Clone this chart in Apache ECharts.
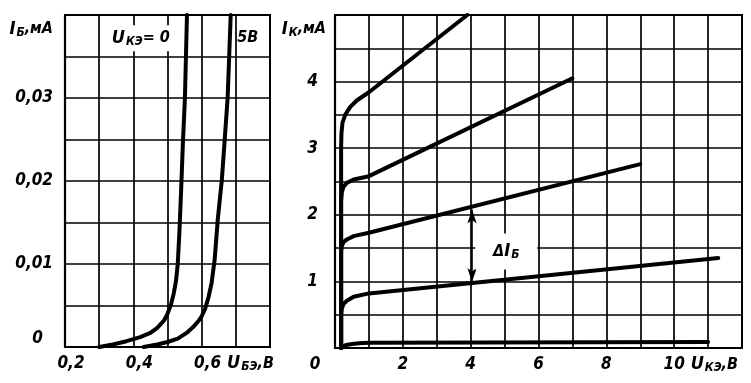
<!DOCTYPE html>
<html>
<head>
<meta charset="utf-8">
<script src="https://cdn.jsdelivr.net/npm/echarts@6/dist/echarts.min.js"></script>
<style>
html,body{margin:0;padding:0;background:#fff;}
#c{width:751px;height:383px;}
</style>
</head>
<body>
<div id="c"></div>
<script>
// ---- Input characteristics: I_Б (mA) vs U_БЭ (V) ----
const inUbe0 = [0.30, 0.34, 0.38, 0.42, 0.45, 0.47, 0.49, 0.50, 0.51, 0.518, 0.525, 0.530, 0.535, 0.540, 0.545, 0.551, 0.557];
const inIb0  = [0, 0.0003, 0.0007, 0.0012, 0.0017, 0.0023, 0.0032, 0.0040, 0.0051, 0.0064, 0.0080, 0.0100, 0.0140, 0.0190, 0.0245, 0.030, 0.040];
const inUbe5 = [0.43, 0.47, 0.50, 0.53, 0.556, 0.575, 0.59, 0.60, 0.61, 0.62, 0.629, 0.638, 0.647, 0.659, 0.668, 0.676, 0.685];
const inIb5  = [0, 0.0003, 0.0006, 0.0010, 0.0017, 0.0024, 0.0031, 0.0037, 0.0046, 0.0060, 0.0077, 0.0105, 0.0153, 0.0201, 0.0253, 0.030, 0.040];

// ---- Output characteristics: I_К (mA) vs U_КЭ (V) ----
const outU_A = [0.18, 0.18, 0.19, 0.22, 0.30, 0.45, 0.65, 1.00, 3.90];
const outI_A = [0, 3.00, 3.22, 3.38, 3.50, 3.62, 3.72, 3.84, 5.00];
const outU_B = [0.18, 0.18, 0.20, 0.25, 0.35, 0.55, 1.00, 7.00];
const outI_B = [0, 2.20, 2.33, 2.42, 2.48, 2.53, 2.58, 4.05];
const outU_C = [0.18, 0.18, 0.20, 0.25, 0.35, 0.55, 1.00, 9.00];
const outI_C = [0, 1.45, 1.53, 1.59, 1.63, 1.68, 1.73, 2.76];
const outU_D = [0.18, 0.18, 0.20, 0.25, 0.35, 0.55, 1.00, 11.30];
const outI_D = [0, 0.50, 0.59, 0.66, 0.71, 0.77, 0.82, 1.35];
const outU_E = [0.18, 0.22, 0.30, 0.45, 0.70, 1.00, 11.00];
const outI_E = [0, 0.02, 0.04, 0.055, 0.07, 0.08, 0.09];

// ΔI_Б arrow (U, I from, I to)
const deltaU = 4.04;
const deltaI = [2.08, 0.99];

// tick labels
const leftXTicks = [0.2, 0.4, 0.6];
const leftYTicks = [0, 0.01, 0.02, 0.03];
const rightXTicks = [0, 2, 4, 6, 8, 10];
const rightYTicks = [1, 2, 3, 4];

const F = "'DejaVu Sans Condensed','Liberation Sans Narrow','DejaVu Sans',sans-serif";
const near = (a, b) => Math.abs(a - b) < 1e-6;
const has = (arr, v) => arr.some(t => near(t, v));
const zip = (xs, ys) => xs.map((x, i) => [x, ys[i]]);

const T = {fontFamily: F, fontStyle: 'italic', fontWeight: 'bold', color: '#000'};
const rich = {
  i: Object.assign({}, T, {fontSize: 18}),
  s: Object.assign({}, T, {fontSize: 12, verticalAlign: 'bottom', padding: [7, 0, 0, 1]}),
  n: Object.assign({}, T, {fontSize: 16}),
  zx: Object.assign({}, T, {fontSize: 17, padding: [0, 40, 0, 0]}),
  zy: Object.assign({}, T, {fontSize: 17, padding: [0, 10, 16, 0]})
};
const labelBase = Object.assign({}, T, {fontSize: 17});
const split = {show: true, lineStyle: {color: '#000', width: 1.7}};
const axisLine = {show: true, lineStyle: {color: '#000', width: 2.2}};

const curveStyle = (w) => ({color: '#000', width: w, join: 'round', cap: 'round'});

const option = {
  animation: false,
  backgroundColor: '#fff',
  grid: [
    {left: 65, right: 481, top: 15, bottom: 36, show: true, borderColor: '#000', borderWidth: 2},
    {left: 335, right: 9, top: 15, bottom: 35, show: true, borderColor: '#000', borderWidth: 2}
  ],
  xAxis: [
    {
      gridIndex: 0, type: 'value', min: 0.2, max: 0.8, interval: 0.1,
      axisLine, axisTick: {show: false}, splitLine: split,
      axisLabel: Object.assign({}, labelBase, {
        margin: 8, padding: [0, 0, 0, 12],
        formatter: v => has(leftXTicks, v) ? v.toFixed(1).replace('.', ',') : ''
      }),
      name: '{i|U}{s|БЭ}{n|,В}', nameLocation: 'end', nameGap: -50,
      nameTextStyle: {rich, align: 'left', verticalAlign: 'top', padding: [7, 0, 0, 0]}
    },
    {
      gridIndex: 1, type: 'value', min: 0, max: 12, interval: 1,
      axisLine, axisTick: {show: false}, splitLine: split,
      axisLabel: Object.assign({}, labelBase, {
        margin: 8, rich,
        formatter: v => near(v, 0) ? '{zx|0}' : (has(rightXTicks, v) ? String(Math.round(v)) : '')
      }),
      name: '{i|U}{s|КЭ}{n|,В}', nameLocation: 'end', nameGap: -52,
      nameTextStyle: {rich, align: 'left', verticalAlign: 'top', padding: [7, 0, 0, 0]}
    }
  ],
  yAxis: [
    {
      gridIndex: 0, type: 'value', min: 0, max: 0.04, interval: 0.005,
      axisLine, axisTick: {show: false}, splitLine: split,
      axisLabel: Object.assign({}, labelBase, {
        margin: 12, rich,
        formatter: v => near(v, 0) ? '{zy|0}' : (has(leftYTicks, v) ? v.toFixed(2).replace('.', ',') : '')
      }),
      name: '{i|I}{s|Б}{n|,мА}', nameLocation: 'end', nameGap: -14,
      nameTextStyle: {rich, align: 'right', verticalAlign: 'middle', padding: [0, 12, 0, 0]}
    },
    {
      gridIndex: 1, type: 'value', min: 0, max: 5, interval: 0.5,
      axisLine, axisTick: {show: false}, splitLine: split,
      axisLabel: Object.assign({}, labelBase, {
        margin: 17,
        formatter: v => has(rightYTicks, v) ? String(Math.round(v)) : ''
      }),
      name: '{i|I}{s|К}{n|,мА}', nameLocation: 'end', nameGap: -14,
      nameTextStyle: {rich, align: 'right', verticalAlign: 'middle', padding: [0, 9, 0, 0]}
    }
  ],
  series: [
    {
      type: 'line', xAxisIndex: 0, yAxisIndex: 0, data: zip(inUbe0, inIb0),
      showSymbol: false, lineStyle: curveStyle(4), z: 5,
      markPoint: {
        silent: true, symbol: 'rect', symbolSize: [70, 26], itemStyle: {color: '#fff'},
        label: {show: true, position: 'inside', formatter: '{i|U}{s|КЭ}{n|= 0}', rich},
        data: [{coord: [0.422, 0.0372]}]
      }
    },
    {
      type: 'line', xAxisIndex: 0, yAxisIndex: 0, data: zip(inUbe5, inIb5),
      showSymbol: false, lineStyle: curveStyle(4), z: 5,
      markPoint: {
        silent: true, symbol: 'rect', symbolSize: [20, 22], itemStyle: {color: '#fff'},
        label: {show: true, position: 'inside', formatter: '{n|5В}', rich},
        data: [{coord: [0.735, 0.0373]}]
      }
    },
    {type: 'line', xAxisIndex: 1, yAxisIndex: 1, data: zip(outU_A, outI_A), showSymbol: false, lineStyle: curveStyle(4), z: 5},
    {type: 'line', xAxisIndex: 1, yAxisIndex: 1, data: zip(outU_B, outI_B), showSymbol: false, lineStyle: curveStyle(4), z: 5},
    {type: 'line', xAxisIndex: 1, yAxisIndex: 1, data: zip(outU_C, outI_C), showSymbol: false, lineStyle: curveStyle(4), z: 5},
    {
      type: 'line', xAxisIndex: 1, yAxisIndex: 1, data: zip(outU_D, outI_D), showSymbol: false, lineStyle: curveStyle(4), z: 5,
      markPoint: {
        silent: true, symbol: 'rect', symbolSize: [62, 36], itemStyle: {color: '#fff'},
        label: {show: true, position: 'inside', formatter: '{n|Δ}{i|I}{s|Б}', rich},
        data: [{coord: [5.05, 1.45]}]
      },
      markLine: {
        silent: true, symbol: ['arrow', 'arrow'], symbolSize: [7, 14],
        lineStyle: {color: '#000', width: 1.6, type: 'solid'},
        label: {show: false},
        data: [[{coord: [deltaU, deltaI[0]]}, {coord: [deltaU, deltaI[1]]}]]
      }
    },
    {type: 'line', xAxisIndex: 1, yAxisIndex: 1, data: zip(outU_E, outI_E), showSymbol: false, lineStyle: curveStyle(4), z: 5}
  ]
};

const chart = echarts.init(document.getElementById('c'), null, {renderer: 'canvas'});
chart.setOption(option);
</script>
</body>
</html>
